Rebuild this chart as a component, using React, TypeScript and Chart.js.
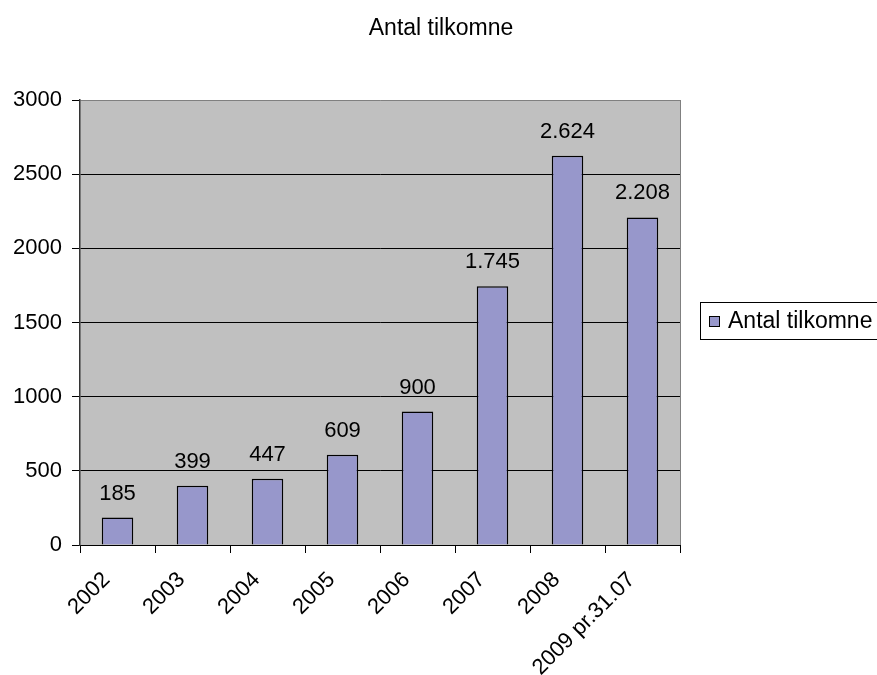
import React, { useEffect, useRef } from "react";
import { Chart, registerables } from "chart.js";

Chart.register(...registerables);

const TITLE = "Antal tilkomne";
const SERIES_NAME = "Antal tilkomne";
const CATEGORIES = ["2002", "2003", "2004", "2005", "2006", "2007", "2008", "2009 pr.31.07"];
const VALUES = [185, 399, 447, 609, 900, 1745, 2624, 2208];
const Y_MIN = 0;
const Y_MAX = 3000;
const Y_STEP = 500;

const FONT = "'Liberation Sans', Arial, sans-serif";
const FS = 22;
const FS_TITLE = 23;
const BAR_COLOR = "#9797CB";
const PLOT_BG = "#C0C0C0";

function fmt(v: number): string {
  const s = String(Math.round(v));
  return s.replace(/\B(?=(\d{3})+(?!\d))/g, ".");
}

export default function App() {
  const ref = useRef<HTMLCanvasElement | null>(null);
  useEffect(() => {
    if (!ref.current) return;
    const bgPlugin = {
      id: "bg",
      beforeDraw(chart: any) {
        const { ctx, chartArea: a } = chart;
        ctx.save();
        ctx.fillStyle = "#fff";
        ctx.fillRect(0, 0, chart.width, chart.height);
        ctx.fillStyle = PLOT_BG;
        ctx.fillRect(a.left, a.top, a.right - a.left, a.bottom - a.top);
        ctx.restore();
      },
      afterDraw(chart: any) {
        const { ctx, chartArea: a } = chart;
        ctx.save();
        ctx.strokeStyle = "#808080";
        ctx.lineWidth = 1;
        ctx.beginPath();
        ctx.moveTo(a.right + 0.5, a.top);
        ctx.lineTo(a.right + 0.5, a.bottom);
        ctx.stroke();
        ctx.fillStyle = "#000";
        ctx.font = `${FS_TITLE}px ${FONT}`;
        ctx.textAlign = "center";
        ctx.textBaseline = "middle";
        ctx.fillText(TITLE, 441, 29);
        ctx.strokeStyle = "#000";
        ctx.lineWidth = 1;
        ctx.strokeRect(700.5, 302.5, 200, 37);
        ctx.fillStyle = BAR_COLOR;
        ctx.fillRect(709, 316, 11, 11);
        ctx.strokeRect(709.5, 316.5, 10, 10);
        ctx.fillStyle = "#000";
        ctx.textAlign = "left";
        ctx.fillText(SERIES_NAME, 728, 322);
        ctx.restore();
      },
      afterDatasetsDraw(chart: any) {
        const { ctx } = chart;
        const meta = chart.getDatasetMeta(0);
        ctx.save();
        ctx.fillStyle = "#000";
        ctx.font = `${FS}px ${FONT}`;
        ctx.textAlign = "center";
        ctx.textBaseline = "alphabetic";
        meta.data.forEach((el: any, i: number) => {
          ctx.fillText(fmt(VALUES[i]), el.x, el.y - 18);
        });
        ctx.restore();
      },
    };

    const chart = new Chart(ref.current, {
      type: "bar",
      data: {
        labels: CATEGORIES,
        datasets: [
          {
            label: SERIES_NAME,
            data: VALUES,
            backgroundColor: BAR_COLOR,
            borderColor: "#000",
            borderWidth: 1.5,
            barPercentage: 0.42,
            categoryPercentage: 1,
          },
        ],
      },
      options: {
        responsive: false,
        animation: false,
        devicePixelRatio: 1,
        layout: { padding: { top: 100, right: 197, left: 0, bottom: 0 } },
        plugins: { legend: { display: false }, title: { display: false }, tooltip: { enabled: false } },
        scales: {
          x: {
            offset: true,
            grid: { offset: true, drawOnChartArea: false, drawTicks: true, tickLength: 8, color: "#000" },
            border: { color: "#000", width: 1 },
            ticks: {
              maxRotation: 45,
              minRotation: 45,
              autoSkip: false,
              padding: 14,
              labelOffset: -11,
              color: "#000",
              font: { family: FONT, size: FS },
            },
            afterFit(scale: any) {
              scale.height = 130;
              scale.paddingLeft = 0;
              scale.paddingRight = 0;
            },
          },
          y: {
            min: Y_MIN,
            max: Y_MAX,
            grid: {
              color: (c: any) => (c.tick && c.tick.value === Y_MAX ? "#808080" : "#000"),
              tickColor: "#000",
              tickLength: 8,
              drawTicks: true,
            },
            border: { color: "#333", width: 1.5 },
            ticks: {
              stepSize: Y_STEP,
              padding: 10,
              color: "#000",
              font: { family: FONT, size: FS },
              callback: (v: any) => String(v),
            },
            afterFit(scale: any) {
              scale.width = 80;
              scale.paddingTop = 0;
              scale.paddingBottom = 0;
            },
          },
        },
      },
      plugins: [bgPlugin],
    } as any);
    return () => chart.destroy();
  }, []);
  return (
    <div style={{ position: "absolute", left: 0, top: 0, width: 877, height: 675 }}>
      <canvas ref={ref} width={877} height={675} style={{ width: 877, height: 675, display: "block" }} />
    </div>
  );
}
